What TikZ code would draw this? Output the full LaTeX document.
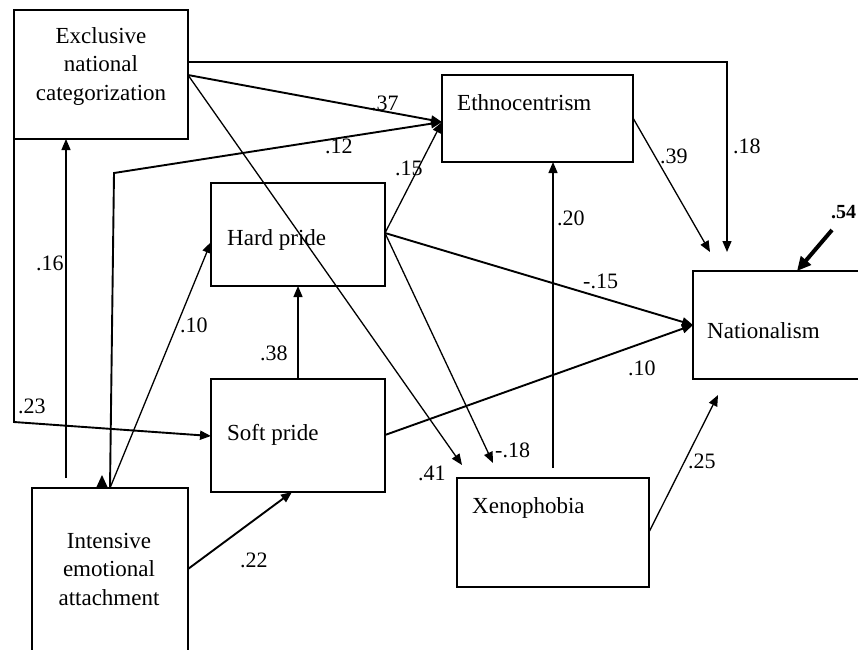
\documentclass[tikz,border=0pt]{standalone}
\usepackage{fontspec}
\setmainfont{Liberation Serif}
\usetikzlibrary{arrows.meta,calc}
\begin{document}
\begin{tikzpicture}[x=1pt,y=-1pt,
  box/.style={draw,line width=1.2pt,inner sep=0pt,outer sep=0pt,anchor=north west},
  btext/.style={inner sep=0pt,font=\fontsize{23}{28.5}\selectfont},
  lab/.style={inner sep=0pt,anchor=base west,font=\fontsize{22}{26}\selectfont},
  con/.style={line width=1.3pt,-{Triangle[length=11pt,width=9pt]}},
  thk/.style={line width=1.9pt,-{Triangle[length=11pt,width=9pt]}},
  plain/.style={line width=1.3pt}]
\useasboundingbox (0,0) rectangle (858,649);
\clip (0,0) rectangle (858,649);
% boxes
\node[box,minimum width=174pt,minimum height=129pt] (ex) at (14,10) {};
\node[box,minimum width=191pt,minimum height=87pt] (eth) at (442,75) {};
\node[box,minimum width=174pt,minimum height=103pt] (hp) at (211,183) {};
\node[box,minimum width=174pt,minimum height=113pt] (sp) at (211,379) {};
\node[box,minimum width=187pt,minimum height=108pt] (nat) at (693,271) {};
\node[box,minimum width=192pt,minimum height=109pt] (xen) at (457,478) {};
\node[box,minimum width=156pt,minimum height=182pt] (ie) at (32,488) {};
% box texts
\node[btext,align=center,anchor=north] (exT) at (101,27) {Exclusive\\national\\categorization};
\node[btext,align=center,anchor=north] (ieT) at (109,533) {Intensive\\emotional\\attachment};
\node[btext,anchor=base west] (ethT) at (457,110) {Ethnocentrism};
\node[btext,anchor=base west] (hpT) at (227,245) {Hard pride};
\node[btext,anchor=base west] (spT) at (227,440) {Soft pride};
\node[btext,anchor=base west] (natT) at (707,338) {Nationalism};
\node[btext,anchor=base west] (xenT) at (472,513) {Xenophobia};
% free ends
\coordinate (n18) at (727,252);
\coordinate (n39) at (710,252);
\coordinate (n25) at (718,395);
\coordinate (x41) at (462,465);
\coordinate (x18) at (493,463);
\coordinate (x20) at (553,468);
\coordinate (i16) at (66,478);
\coordinate (e54) at (832,230);
% connectors
\draw[con] ([yshift=-52pt]ex.north east) -| (n18);
\draw[thk] ([yshift=-65pt]ex.north east) -- ([yshift=-47pt]eth.north west);
\draw[thk] ([xshift=78pt]ie.north west) -- (114,173) -- ([yshift=-47pt]eth.north west);
\draw[con] ([yshift=-50pt]hp.north east) -- ([yshift=-47pt]eth.north west);
\draw[con] ([yshift=-65pt]ex.north east) -- (x41);
\draw[con] (i16) -- (i16 |- ex.south);
\draw[thk] (ex.south west) -- (14,422) -- ([yshift=-57pt]sp.north west);
\draw[con] ([xshift=78pt]ie.north west) -- ([yshift=-59pt]hp.north west);
\draw[con] ([xshift=87pt]sp.north west) -- ([xshift=87pt]hp.south west);
\draw[thk] ([yshift=-81pt]ie.north east) -- ([xshift=81pt]sp.south west);
\draw[thk] ([yshift=-50pt]hp.north east) -- ([yshift=-54pt]nat.north west);
\draw[thk] ([yshift=-56pt]sp.north east) -- ([yshift=-54pt]nat.north west);
\draw[con] ([yshift=-50pt]hp.north east) -- (x18);
\draw[con] (x20) -- (x20 |- eth.south);
\draw[con] ([yshift=-43pt]eth.north east) -- (n39);
\draw[con] ([yshift=-54pt]xen.north east) -- (n25);
\draw[line width=4pt,-{Triangle[length=14pt,width=13pt]}] (e54) -- ([xshift=104pt]nat.north west);
\fill (96,488) -- (102,475) -- (108,488) -- cycle;
% labels
\node[lab] (l37) at (371,110) {.37};
\node[lab] (l12) at (325,153) {.12};
\node[lab] (l15) at (395,175) {.15};
\node[lab] (l18) at (733,153) {.18};
\node[lab] (l39) at (660,163) {.39};
\node[lab] (l20) at (557,225) {.20};
\node[lab] (l16) at (36,270) {.16};
\node[lab] (l10a) at (180,332) {.10};
\node[lab] (l38) at (260,360) {.38};
\node[lab] (l23) at (18,413) {.23};
\node[lab] (l15b) at (583,288) {-.15};
\node[lab] (l10b) at (628,375) {.10};
\node[lab,font=\fontsize{20}{24}\selectfont\bfseries] (l54) at (831,218) {.54};
\node[lab] (l41) at (418,480) {.41};
\node[lab] (l18b) at (495,457) {-.18};
\node[lab] (l25) at (688,468) {.25};
\node[lab] (l22) at (240,567) {.22};
\end{tikzpicture}
\end{document}
